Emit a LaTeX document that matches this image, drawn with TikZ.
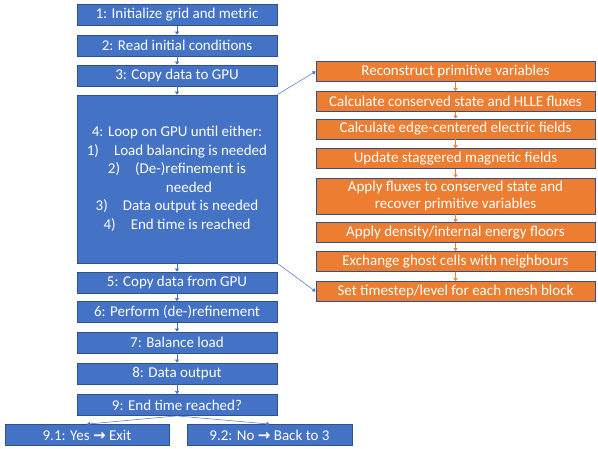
\documentclass[tikz,border=0pt]{standalone}
\usepackage{fontspec}
\setmainfont{Carlito}
\newfontfamily\symfont{DejaVu Sans}
\usetikzlibrary{arrows.meta}
\definecolor{boxblue}{HTML}{4472C4}
\definecolor{boxorange}{HTML}{ED7D31}
\definecolor{edgeblue}{HTML}{2F528F}
\tikzset{
	stepbox/.style={draw=edgeblue,line width=.8pt,fill=boxblue,text=white,
		minimum width=200pt,minimum height=21pt,inner sep=0pt,
		font=\fontsize{15}{17}\selectfont},
	substep/.style={stepbox,fill=boxorange,minimum width=279pt,minimum height=20pt},
	flow/.style={boxblue,line width=.5pt,-{Triangle[width=4pt,length=3pt]}}
}
\begin{document}
\begin{tikzpicture}[x=1pt,y=-1pt]
	\useasboundingbox (0,0) rectangle (598,449);
	\pgfmathsetmacro{\lx}{177}
	\pgfmathsetmacro{\rx}{455.5}
	% main loop on the host
	\node[stepbox] (s1) at (\lx,15) {1: Initialize grid and metric};
	\node[stepbox] (s2) at (\lx,45.5) {2: Read initial conditions};
	\node[stepbox] (s3) at (\lx,75.5) {3: Copy data to GPU};
	\node[stepbox,minimum height=168pt,align=center,font=\fontsize{15}{18.5}\selectfont] (s4) at (\lx,179)
		{4: Loop on GPU until either:\\
		1)\hspace{1em}Load balancing is needed\\
		2)\hspace{1em}(De-)refinement is\\
		\hspace*{24pt}needed\\
		3)\hspace{1em}Data output is needed\\
		4)\hspace{1em}End time is reached};
	\node[stepbox] (s5) at (\lx,282.5) {5: Copy data from GPU};
	\node[stepbox] (s6) at (\lx,312) {6: Perform (de-)refinement};
	\node[stepbox] (s7) at (\lx,342.5) {7: Balance load};
	\node[stepbox] (s8) at (\lx,373.5) {8: Data output};
	\node[stepbox] (s9) at (\lx,405) {9: End time reached?};
	\node[stepbox,minimum width=164pt] (s91) at (87,435) {9.1: Yes {\symfont\bfseries →} Exit};
	\node[stepbox,minimum width=165pt] (s92) at (269.5,435) {9.2: No {\symfont\bfseries →} Back to 3};
	% work done on the GPU
	\node[substep] (g1) at (\rx,71.5) {Reconstruct primitive variables};
	\node[substep] (g2) at (\rx,101.5) {Calculate conserved state and HLLE fluxes};
	\node[substep] (g3) at (\rx,129) {Calculate edge-centered electric fields};
	\node[substep] (g4) at (\rx,158.5) {Update staggered magnetic fields};
	\node[substep,minimum height=36pt,align=center] (g5) at (\rx,196)
		{Apply fluxes to conserved state and\\recover primitive variables};
	\node[substep] (g6) at (\rx,232.5) {Apply density/internal energy floors};
	\node[substep] (g7) at (\rx,261.5) {Exchange ghost cells with neighbours};
	\node[substep] (g8) at (\rx,291.5) {Set timestep/level for each mesh block};
	\foreach \a/\b in {s1/s2,s2/s3,s3/s4,s4/s5,s5/s6,s6/s7,s7/s8,s8/s9}
		\draw[flow] (\a)--(\b);
	\draw[flow] (s9.south)--(s91.north);
	\draw[flow] (s9.south)--(s92.north);
	\foreach \a/\b in {g1/g2,g2/g3,g3/g4,g4/g5,g5/g6,g6/g7,g7/g8}
		\draw[flow,boxorange] (\a)--(\b);
	\draw[flow] (s4.north east)--(g1.west);
	\draw[flow] (s4.south east)--(g8.west);
\end{tikzpicture}
\end{document}
